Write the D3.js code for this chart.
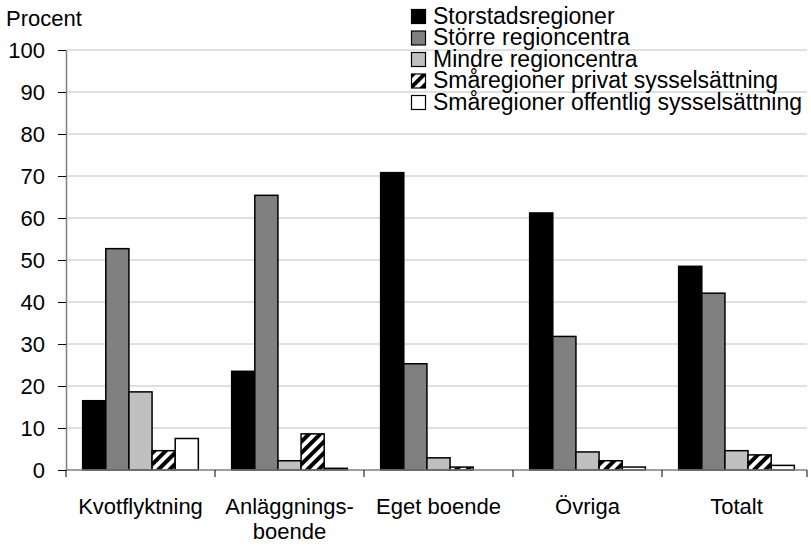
<!DOCTYPE html>
<html>
<head>
<meta charset="utf-8">
<script src="https://cdn.jsdelivr.net/npm/d3@7"></script>
<style>
  body { margin: 0; background: #fff; }
  text { font-family: "Liberation Sans", Arial, sans-serif; fill: #000; }
</style>
</head>
<body>
<script>
// categories and series
var categories = ["Kvotflyktning", "Anläggnings-\nboende", "Eget boende", "Övriga", "Totalt"];
var seriesNames = ["Storstadsregioner", "Större regioncentra", "Mindre regioncentra",
    "Småregioner privat sysselsättning", "Småregioner offentlig sysselsättning"];
var storstad = [16.5, 23.5, 70.8, 61.2, 48.5];
var storre = [52.7, 65.4, 25.3, 31.8, 42.1];
var mindre = [18.6, 2.2, 2.9, 4.3, 4.6];
var smaPrivat = [4.6, 8.6, 0.7, 2.2, 3.6];
var smaOffentlig = [7.5, 0.4, 0, 0.7, 1.1];
var yTicks = [0, 10, 20, 30, 40, 50, 60, 70, 80, 90, 100];

var series = [storstad, storre, mindre, smaPrivat, smaOffentlig];
var fills = ["#000000", "#808080", "#c0c0c0", "url(#hatch)", "#ffffff"];

var width = 811, height = 548;
var margin = { top: 50, right: 0, bottom: 78, left: 66 };
var innerW = width - margin.left - margin.right,
    innerH = height - margin.top - margin.bottom;

var svg = d3.select("body").append("svg")
    .attr("width", width)
    .attr("height", height);

// diagonal hatch pattern
var pat = svg.append("defs").append("pattern")
    .attr("id", "hatch")
    .attr("patternUnits", "userSpaceOnUse")
    .attr("width", 8).attr("height", 8)
    .attr("patternTransform", "rotate(45)");
pat.append("rect").attr("width", 8).attr("height", 8).attr("fill", "#fff");
pat.append("rect").attr("width", 4).attr("height", 8).attr("fill", "#000");

var g = svg.append("g")
    .attr("transform", `translate(${margin.left},${margin.top})`);

var x0 = d3.scaleBand().domain(categories).range([0, innerW]).paddingInner(0).paddingOuter(0);
var x1 = d3.scaleBand().domain(d3.range(series.length))
    .range([0, x0.bandwidth()]).paddingInner(0).paddingOuter(0.72);
var y = d3.scaleLinear().domain([0, 100]).range([innerH, 0]);

// gridlines
g.selectAll("line.grid")
    .data(yTicks.filter(d => d > 0))
    .join("line")
    .attr("class", "grid")
    .attr("x1", 0).attr("x2", innerW - 4)
    .attr("y1", d => y(d)).attr("y2", d => y(d))
    .attr("stroke", "#c0c0c0").attr("stroke-width", 1);

// bars
categories.forEach(function (c, i) {
    var grp = g.append("g").attr("transform", `translate(${x0(c)},0)`);
    series.forEach(function (s, j) {
        var v = s[i];
        if (v <= 0) return;
        grp.append("rect")
            .attr("x", x1(j))
            .attr("y", y(v))
            .attr("width", x1.bandwidth())
            .attr("height", innerH - y(v))
            .attr("fill", fills[j])
            .attr("stroke", "#000")
            .attr("stroke-width", 1.5);
    });
});

// y axis
var yAxis = g.append("g")
    .call(d3.axisLeft(y).tickValues(yTicks).tickSize(8).tickSizeOuter(0).tickPadding(13));
yAxis.select(".domain").attr("stroke", "#808080").attr("stroke-width", 1.5);
yAxis.selectAll(".tick line").attr("stroke", "#000");
yAxis.selectAll("text")
    .style("font-size", "22px")
    .style("font-family", "Liberation Sans, Arial, sans-serif");

// x axis
var xAxis = g.append("g")
    .attr("transform", `translate(0,${innerH})`);
xAxis.append("line")
    .attr("x1", 0).attr("x2", innerW - 4)
    .attr("stroke", "#808080").attr("stroke-width", 1.5);
xAxis.selectAll("line.tk")
    .data(categories.map(c => x0(c)).concat([innerW - 4]))
    .join("line")
    .attr("class", "tk")
    .attr("x1", d => d).attr("x2", d => d)
    .attr("y1", 0).attr("y2", 7)
    .attr("stroke", "#000");
categories.forEach(function (c) {
    var t = xAxis.append("text")
        .attr("text-anchor", "middle")
        .attr("x", x0(c) + x0.bandwidth() / 2)
        .style("font-size", "22px");
    c.split("\n").forEach(function (line, k) {
        t.append("tspan")
            .attr("x", x0(c) + x0.bandwidth() / 2)
            .attr("y", 44 + k * 25)
            .text(line);
    });
});

// y title
svg.append("text")
    .attr("x", 6).attr("y", 26)
    .style("font-size", "22px")
    .text("Procent");

// legend
var legend = svg.append("g").attr("transform", "translate(411,9)");
seriesNames.forEach(function (name, j) {
    var row = legend.append("g").attr("transform", `translate(0,${j * 21.5})`);
    row.append("rect")
        .attr("x", 0.5).attr("y", 0.5)
        .attr("width", 14).attr("height", 14)
        .attr("fill", fills[j])
        .attr("stroke", "#000").attr("stroke-width", 1.2);
    row.append("text")
        .attr("x", 22).attr("y", 14.5)
        .style("font-size", "23px")
        .text(name);
});
</script>
</body>
</html>
